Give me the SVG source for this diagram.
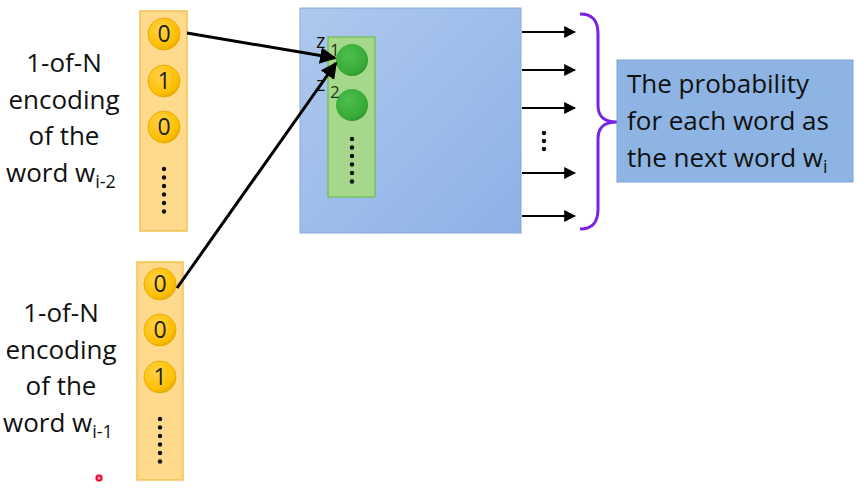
<svg xmlns="http://www.w3.org/2000/svg" width="866" height="492" viewBox="0 0 866 492">
<defs>
<radialGradient id="gold" cx="0.4" cy="0.35" r="0.7">
<stop offset="0" stop-color="#FFD24A"/>
<stop offset="0.75" stop-color="#FFC000"/>
<stop offset="1" stop-color="#E4A600"/>
</radialGradient>
<radialGradient id="grn" cx="0.4" cy="0.35" r="0.7">
<stop offset="0" stop-color="#4CC04C"/>
<stop offset="0.8" stop-color="#36A936"/>
<stop offset="1" stop-color="#2E8F2E"/>
</radialGradient>
<linearGradient id="blue" x1="0" y1="0" x2="1" y2="1">
<stop offset="0" stop-color="#AFC9EE"/>
<stop offset="1" stop-color="#8DB1E6"/>
</linearGradient>
<marker id="ah" viewBox="0 0 10 10" refX="9" refY="5" markerWidth="5.5" markerHeight="5.5" orient="auto" markerUnits="strokeWidth">
<path d="M0,0 L10,5 L0,10 z" fill="#000"/>
</marker>
<marker id="ah2" viewBox="0 0 10 10" refX="9" refY="5" markerWidth="6" markerHeight="6" orient="auto" markerUnits="strokeWidth">
<path d="M0,0 L10,5 L0,10 z" fill="#000"/>
</marker>
</defs>
<style>
.lbl{font-family:"Open Sans","Noto Sans",sans-serif;font-size:26px;fill:#111;}
.num{font-family:"Open Sans","Noto Sans",sans-serif;font-size:23px;fill:#222;text-anchor:middle;}
.col{fill:#FFD98C;stroke:#F2C24E;stroke-width:1.5;}
.bead{fill:url(#gold);stroke:#E9AF10;stroke-width:1;}
.dot{fill:#111;}
.z{font-family:"Open Sans","Noto Sans",sans-serif;font-size:20px;fill:#111;}
.zs{font-family:"Open Sans","Noto Sans",sans-serif;font-size:17px;fill:#1a3a1a;}
.sub{font-size:18px;}
</style>
<rect width="866" height="492" fill="#fff"/>

<g id="label-top">
<text class="lbl" text-anchor="middle" x="64" y="72">1-of-N</text>
<text class="lbl" text-anchor="middle" x="64" y="109">encoding</text>
<text class="lbl" text-anchor="middle" x="64" y="145">of the</text>
<text class="lbl" x="6" y="182">word w<tspan class="sub" dy="6">i-2</tspan></text>
</g>

<g id="label-bottom">
<text class="lbl" text-anchor="middle" x="61" y="322">1-of-N</text>
<text class="lbl" text-anchor="middle" x="61" y="359">encoding</text>
<text class="lbl" text-anchor="middle" x="61" y="395">of the</text>
<text class="lbl" x="3" y="432">word w<tspan class="sub" dy="6">i-1</tspan></text>
</g>

<g id="input-top">
<rect class="col" x="140" y="11" width="47" height="220"/>
<circle class="bead" cx="164" cy="34" r="16"/>
<text class="num" x="164" y="42">0</text>
<circle class="bead" cx="164" cy="81" r="16"/>
<text class="num" x="164" y="89">1</text>
<circle class="bead" cx="164" cy="127" r="16"/>
<text class="num" x="164" y="135">0</text>
<g class="dot">
<circle cx="164" cy="169" r="2.2"/><circle cx="164" cy="177.5" r="2.2"/><circle cx="164" cy="186" r="2.2"/>
<circle cx="164" cy="194.5" r="2.2"/><circle cx="164" cy="203" r="2.2"/><circle cx="164" cy="211.5" r="2.2"/>
</g>
</g>

<g id="input-bottom">
<rect class="col" x="137" y="262" width="46" height="218"/>
<circle class="bead" cx="160" cy="284" r="16"/>
<text class="num" x="160" y="292">0</text>
<circle class="bead" cx="160" cy="330" r="16"/>
<text class="num" x="160" y="338">0</text>
<circle class="bead" cx="160" cy="377" r="16"/>
<text class="num" x="160" y="385">1</text>
<g class="dot">
<circle cx="160" cy="419" r="2.2"/><circle cx="160" cy="427.5" r="2.2"/><circle cx="160" cy="436" r="2.2"/>
<circle cx="160" cy="444.5" r="2.2"/><circle cx="160" cy="453" r="2.2"/><circle cx="160" cy="461.5" r="2.2"/>
</g>
</g>

<g id="network">
<rect x="300" y="8" width="221" height="225" fill="url(#blue)" stroke="#88A8D8" stroke-width="1"/>
<rect x="328" y="37" width="47" height="160" fill="#A6D88C" stroke="#6CC04E" stroke-width="1.2"/>
<circle cx="352" cy="60" r="16" fill="url(#grn)"/>
<circle cx="352" cy="105" r="16" fill="url(#grn)"/>
<g class="dot">
<circle cx="352" cy="139" r="2.2"/><circle cx="352" cy="147.5" r="2.2"/><circle cx="352" cy="156" r="2.2"/>
<circle cx="352" cy="164.5" r="2.2"/><circle cx="352" cy="173" r="2.2"/><circle cx="352" cy="181.5" r="2.2"/>
</g>
<text class="z" x="316" y="48">z</text>
<text class="zs" x="330" y="56">1</text>
<text class="z" x="316" y="91">z</text>
<text class="zs" x="330" y="98">2</text>
<g class="dot">
<circle cx="544" cy="133" r="2.3"/><circle cx="544" cy="141" r="2.3"/><circle cx="544" cy="149" r="2.3"/>
</g>
</g>

<g id="connectors" stroke="#000" fill="none">
<line x1="187" y1="33" x2="335" y2="58" stroke-width="3" marker-end="url(#ah)"/>
<line x1="177" y1="288" x2="336" y2="63" stroke-width="3" marker-end="url(#ah)"/>
<g stroke-width="2" marker-end="url(#ah2)">
<line x1="522" y1="32" x2="575" y2="32"/>
<line x1="522" y1="70" x2="575" y2="70"/>
<line x1="522" y1="108" x2="575" y2="108"/>
<line x1="522" y1="173" x2="575" y2="173"/>
<line x1="522" y1="216" x2="575" y2="216"/>
</g>
</g>

<g id="brace">
<path d="M580,14 C592,14 598,20 598,34 L598,105 C598,117 604,122 617,122 C604,122 598,127 598,139 L598,209 C598,223 592,229 580,229" fill="none" stroke="#7A22E4" stroke-width="3"/>
</g>

<g id="output-box">
<rect x="617" y="60" width="236" height="122" fill="#8EB4E3" stroke="#7DA3D8" stroke-width="1"/>
<text class="lbl" x="627" y="93">The probability</text>
<text class="lbl" x="627" y="130">for each word as</text>
<text class="lbl" x="627" y="167">the next word w<tspan class="sub" dy="6">i</tspan></text>
</g>

<g id="cursor">
<circle cx="99" cy="478" r="4" fill="#FF3355" opacity="0.5"/>
<circle cx="99" cy="478" r="2.5" fill="none" stroke="#E8002A" stroke-width="1.5"/>
</g>
</svg>
